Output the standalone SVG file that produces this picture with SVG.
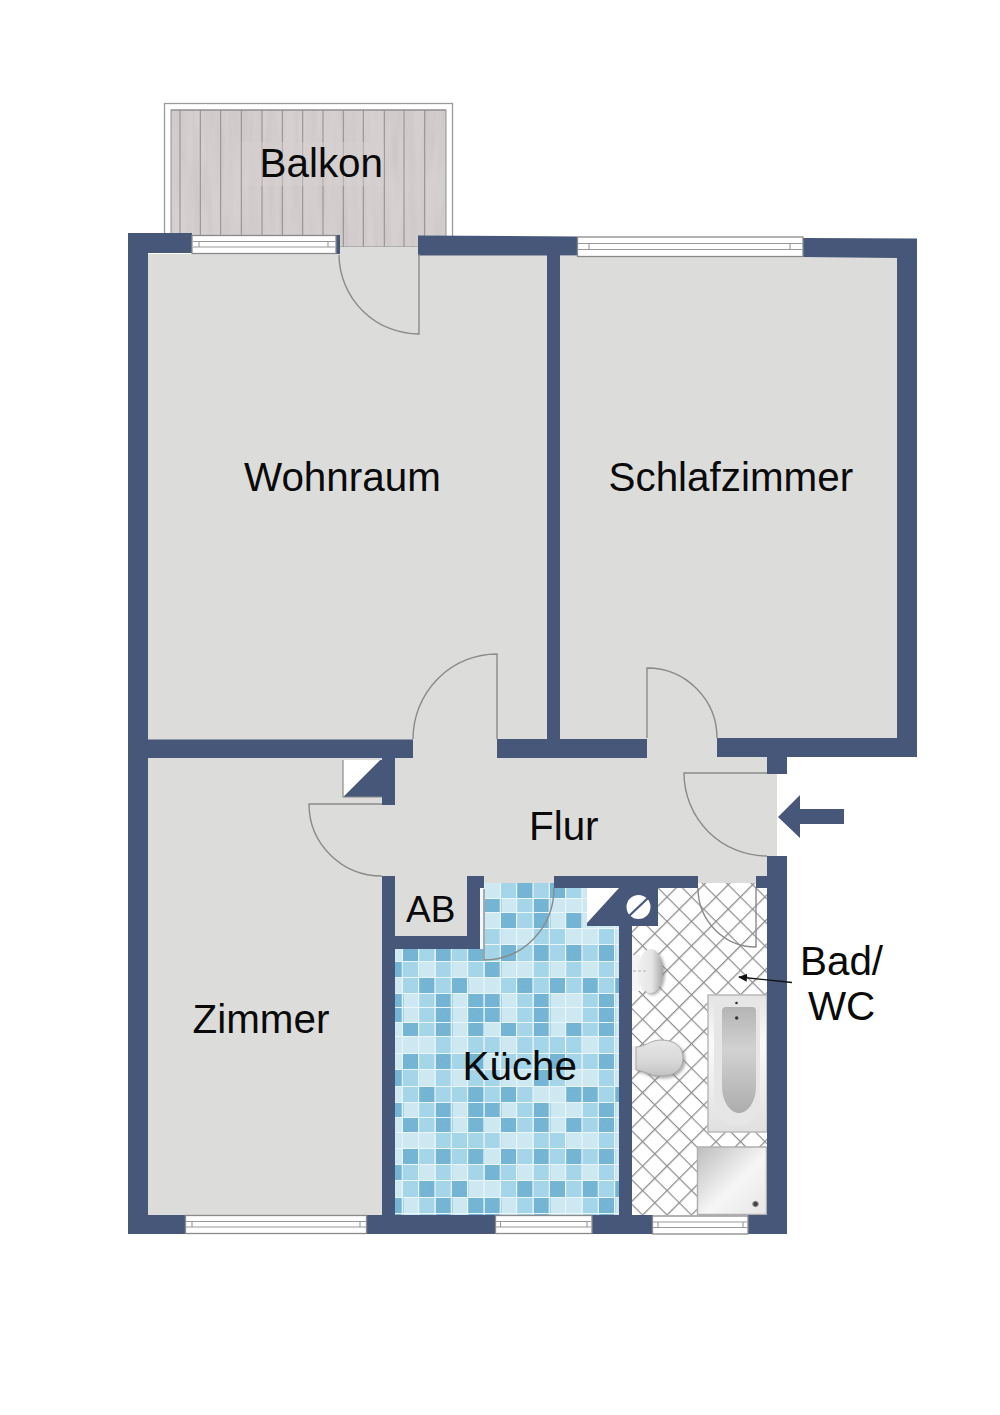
<svg xmlns="http://www.w3.org/2000/svg" width="1000" height="1415" viewBox="0 0 1000 1415">
<style>
.wall{fill:#47577a}
.floor{fill:#dcdcda}
.door{fill:none;stroke:#8a8a8a;stroke-width:1.4}
.win{fill:#fff;stroke:#8a8a8a;stroke-width:1.3}
.winl{fill:none;stroke:#999;stroke-width:1.1}
.lbl{font-family:"Liberation Sans",Arial,sans-serif;font-size:40.4px;fill:#0a0a0a}
.m,.d{width:16.4px}
.m{fill:#a3d4e8}
.d{fill:#72b3d3}
.r14 rect{height:14px}.r15 rect{height:15px}.r16 rect{height:16px}.r17 rect{height:17px}
</style>
<defs>
<filter id="grain" x="0" y="0" width="1" height="1"><feTurbulence type="fractalNoise" baseFrequency="0.12 0.012" numOctaves="3" seed="4"/><feColorMatrix type="matrix" values="0 0 0 0 0.55  0 0 0 0 0.5  0 0 0 0 0.5  0.9 0 0 0 -0.3"/><feComposite in2="SourceGraphic" operator="in" result="g"/><feMerge><feMergeNode in="SourceGraphic"/><feMergeNode in="g"/></feMerge></filter>
<filter id="speck" x="0" y="0" width="1" height="1"><feTurbulence type="fractalNoise" baseFrequency="0.7" numOctaves="2" seed="7"/><feColorMatrix type="matrix" values="0 0 0 0 1  0 0 0 0 1  0 0 0 0 1  0.8 0 0 0 -0.3"/><feComposite in2="SourceGraphic" operator="in"/></filter>
<filter id="soft" x="-20%" y="-20%" width="140%" height="140%"><feDropShadow dx="2" dy="2" stdDeviation="1.5" flood-color="#777" flood-opacity=".6"/></filter>
<pattern id="hatch" width="17.3" height="17.3" patternUnits="userSpaceOnUse" patternTransform="translate(667 1140.700) rotate(45)"><rect width="17.3" height="17.3" fill="#fff"/><path d="M0 0H17.3M0 0V17.3" fill="none" stroke="#8f8f8f" stroke-width="2.6"/></pattern>
<linearGradient id="sink" x1="0" x2="1" y1="0" y2="0"><stop offset="0" stop-color="#f0f0f0"/><stop offset=".55" stop-color="#e6e6e6"/><stop offset="1" stop-color="#a8a8a8"/></linearGradient>
<linearGradient id="loo" x1="0" x2="0" y1="0" y2="1"><stop offset="0" stop-color="#e6e6e6"/><stop offset=".6" stop-color="#d8d8d8"/><stop offset="1" stop-color="#c2c2c2"/></linearGradient>
<linearGradient id="tub" x1="0" x2="0" y1="0" y2="1"><stop offset="0" stop-color="#e4e4e4"/><stop offset=".35" stop-color="#fafafa"/><stop offset="1" stop-color="#e0e0e0"/></linearGradient>
<linearGradient id="basin" x1="0" x2="0" y1="0" y2="1"><stop offset="0" stop-color="#b4b4b4"/><stop offset=".4" stop-color="#d2d2d2"/><stop offset="1" stop-color="#adadad"/></linearGradient>
<linearGradient id="tray" x1="0" x2="1" y1="0" y2="1"><stop offset="0" stop-color="#bdbdbd"/><stop offset=".55" stop-color="#f6f6f6"/><stop offset="1" stop-color="#e6e6e6"/></linearGradient>
<marker id="tip" markerWidth="9" markerHeight="8" refX="8" refY="4" orient="auto" markerUnits="userSpaceOnUse"><path d="M0 0L9 4L0 8z" fill="#111"/></marker>
</defs>
<rect width="1000" height="1415" fill="#fff"/>

<g id="balkon">
<rect x="164.500" y="103.500" width="288" height="140" fill="#fff" stroke="#9a9a9a" stroke-width="1.3"/>
<rect x="171" y="110" width="275" height="137" fill="#d6d0d0" filter="url(#grain)"/>
<path d="M171 110H446M180 110V247M200.300 110V247M220.700 110V247M241.300 110V247M262 110V247M282.300 110V247M302.700 110V247M323 110V247M343.300 110V247M363.300 110V247M384.300 110V247M404 110V247M424.700 110V247" fill="none" stroke="#918c8c" stroke-width="1"/>
<rect x="171" y="110" width="275" height="137" fill="none" stroke="#8f8f8f" stroke-width="1"/>
<rect x="241.800" y="142" width="142" height="44" fill="#d6d0d0" opacity=".45"/>
</g>

<g id="kueche">
<rect x="395" y="883" width="224" height="332" fill="#cde8f1"/>
<g class="r16" transform="translate(0 883)"><rect class="m" x="501"/><rect class="d" x="517"/><rect class="m" x="534"/><rect class="d" x="550"/><rect class="m" x="566"/></g>
<g class="r14" transform="translate(0 899)"><rect class="d" x="485"/><rect class="m" x="517"/><rect class="d" x="534"/></g>
<g class="r16" transform="translate(0 913)"><rect class="d" x="501"/><rect class="m" x="517"/><rect class="d" x="534"/><rect class="d" x="566"/></g>
<g class="r16" transform="translate(0 929)"><rect class="m" x="485"/><rect class="m" x="534"/><rect class="m" x="550"/><rect class="m" x="599"/></g>
<g class="r17" transform="translate(0 945)"><rect class="d" x="403"/><rect class="m" x="419"/><rect class="d" x="436"/><rect class="m" x="452"/><rect class="d" x="468"/><rect class="m" x="485"/><rect class="d" x="501"/><rect class="m" x="517"/><rect class="d" x="534"/><rect class="m" x="550"/><rect class="d" x="566"/><rect class="m" x="583"/><rect class="d" x="599"/></g>
<g class="r16" transform="translate(0 962)"><rect class="d" x="387"/><rect class="m" x="403"/><rect class="m" x="436"/><rect class="m" x="468"/><rect class="d" x="485"/><rect class="m" x="534"/><rect class="m" x="566"/><rect class="m" x="599"/></g>
<g class="r16" transform="translate(0 978)"><rect class="m" x="403"/><rect class="d" x="419"/><rect class="m" x="436"/><rect class="d" x="452"/><rect class="m" x="501"/><rect class="d" x="517"/><rect class="m" x="534"/><rect class="d" x="550"/><rect class="m" x="566"/><rect class="d" x="583"/><rect class="m" x="599"/><rect class="d" x="615"/></g>
<g class="r14" transform="translate(0 994)"><rect class="d" x="387"/><rect class="m" x="419"/><rect class="d" x="436"/><rect class="d" x="468"/><rect class="d" x="485"/><rect class="m" x="517"/><rect class="d" x="534"/><rect class="m" x="583"/><rect class="d" x="599"/></g>
<g class="r15" transform="translate(0 1008)"><rect class="d" x="387"/><rect class="m" x="419"/><rect class="d" x="436"/><rect class="d" x="468"/><rect class="d" x="485"/><rect class="m" x="517"/><rect class="d" x="534"/><rect class="m" x="583"/><rect class="d" x="599"/></g>
<g class="r14" transform="translate(0 1023)"><rect class="d" x="403"/><rect class="m" x="419"/><rect class="d" x="436"/><rect class="d" x="468"/><rect class="d" x="501"/><rect class="m" x="517"/><rect class="d" x="534"/><rect class="d" x="566"/><rect class="m" x="583"/><rect class="d" x="599"/></g>
<g class="r17" transform="translate(0 1037)"><rect class="m" x="436"/><rect class="m" x="468"/><rect class="m" x="485"/><rect class="m" x="517"/><rect class="m" x="534"/><rect class="m" x="550"/><rect class="m" x="566"/><rect class="m" x="599"/></g>
<g class="r16" transform="translate(0 1054)"><rect class="d" x="403"/><rect class="m" x="419"/><rect class="d" x="436"/><rect class="m" x="452"/><rect class="d" x="468"/><rect class="m" x="501"/><rect class="m" x="517"/><rect class="m" x="534"/><rect class="d" x="550"/><rect class="m" x="566"/><rect class="m" x="583"/><rect class="d" x="599"/></g>
<g class="r17" transform="translate(0 1070)"><rect class="d" x="387"/><rect class="m" x="403"/><rect class="m" x="436"/><rect class="m" x="468"/><rect class="m" x="485"/><rect class="d" x="534"/><rect class="m" x="550"/><rect class="m" x="599"/></g>
<g class="r16" transform="translate(0 1087)"><rect class="m" x="403"/><rect class="d" x="419"/><rect class="m" x="436"/><rect class="m" x="452"/><rect class="d" x="468"/><rect class="m" x="485"/><rect class="d" x="501"/><rect class="m" x="517"/><rect class="d" x="566"/><rect class="d" x="583"/><rect class="m" x="599"/><rect class="d" x="615"/></g>
<g class="r15" transform="translate(0 1103)"><rect class="d" x="387"/><rect class="m" x="419"/><rect class="d" x="436"/><rect class="d" x="468"/><rect class="d" x="485"/><rect class="m" x="517"/><rect class="d" x="534"/><rect class="m" x="583"/><rect class="d" x="599"/></g>
<g class="r15" transform="translate(0 1118)"><rect class="d" x="403"/><rect class="m" x="419"/><rect class="d" x="436"/><rect class="d" x="468"/><rect class="d" x="501"/><rect class="m" x="517"/><rect class="d" x="534"/><rect class="d" x="566"/><rect class="m" x="583"/><rect class="d" x="599"/></g>
<g class="r16" transform="translate(0 1133)"><rect class="m" x="436"/><rect class="m" x="452"/><rect class="m" x="468"/><rect class="m" x="485"/><rect class="m" x="534"/><rect class="m" x="550"/><rect class="m" x="599"/></g>
<g class="r16" transform="translate(0 1149)"><rect class="d" x="403"/><rect class="m" x="419"/><rect class="d" x="436"/><rect class="m" x="452"/><rect class="d" x="468"/><rect class="d" x="501"/><rect class="m" x="517"/><rect class="d" x="534"/><rect class="m" x="550"/><rect class="d" x="566"/><rect class="m" x="583"/><rect class="d" x="599"/></g>
<g class="r16" transform="translate(0 1165)"><rect class="d" x="387"/><rect class="m" x="403"/><rect class="m" x="436"/><rect class="m" x="468"/><rect class="d" x="485"/><rect class="m" x="501"/><rect class="m" x="534"/><rect class="m" x="566"/><rect class="m" x="599"/></g>
<g class="r17" transform="translate(0 1181)"><rect class="m" x="403"/><rect class="d" x="419"/><rect class="m" x="436"/><rect class="d" x="452"/><rect class="m" x="501"/><rect class="d" x="517"/><rect class="m" x="534"/><rect class="d" x="550"/><rect class="m" x="566"/><rect class="d" x="583"/><rect class="m" x="599"/><rect class="d" x="615"/></g>
<g class="r17" transform="translate(0 1198)"><rect class="d" x="387"/><rect class="m" x="419"/><rect class="d" x="436"/><rect class="d" x="468"/><rect class="d" x="485"/><rect class="m" x="517"/><rect class="d" x="534"/><rect class="m" x="583"/><rect class="d" x="599"/></g>
<rect x="395" y="883" width="224" height="332" fill="#fff" filter="url(#speck)" opacity=".18"/>
<path d="M402.300 883V1215M418.600 883V1215M435 883V1215M451.300 883V1215M467.600 883V1215M484 883V1215M500.300 883V1215M516.600 883V1215M533 883V1215M549.300 883V1215M565.600 883V1215M582 883V1215M598.300 883V1215M614.600 883V1215M395 898.500H619M395 912.500H619M395 928.500H619M395 944.500H619M395 961.500H619M395 977.500H619M395 993.500H619M395 1007.500H619M395 1022.500H619M395 1036.500H619M395 1053.500H619M395 1069.500H619M395 1086.500H619M395 1102.500H619M395 1117.500H619M395 1132.500H619M395 1148.500H619M395 1164.500H619M395 1180.500H619M395 1197.500H619M395 1213.500H619" fill="none" stroke="#e9f6fa" stroke-width="1.2"/>
<rect x="480" y="888" width="4" height="61" fill="#f2f8fa"/>
</g>

<g id="floors" class="floor">
<rect x="148" y="254" width="399" height="486"/>
<rect x="339" y="247" width="80" height="10"/>
<rect x="560" y="256" width="337" height="484"/>
<rect x="148" y="758" width="235" height="458"/>
<rect x="382" y="740" width="385" height="136"/>
<rect x="395" y="876" width="372" height="7"/>
<rect x="767" y="774" width="10" height="82"/>
<rect x="395" y="876" width="72" height="60"/>
</g>

<g id="bad">
<rect x="632" y="883" width="135" height="332" fill="url(#hatch)"/>
<g id="waschbecken">
<rect x="632" y="955" width="8" height="36" fill="#f4f4f4"/>
<ellipse cx="650.500" cy="971" rx="12.500" ry="22" fill="url(#sink)" filter="url(#soft)"/>
<path d="M633 971H648" stroke="#cfcfcf" stroke-width="2" stroke-dasharray="3 2" fill="none"/>
</g>
<g id="wc">
<rect x="632" y="1046" width="6" height="24" fill="#eee"/>
<path d="M636 1047C645 1047 650 1040 661 1040C675 1040 683 1047 683 1058C683 1069 675 1076 661 1076C650 1076 645 1071 636 1070Z" fill="url(#loo)" stroke="#a8a8a8" filter="url(#soft)"/>
</g>
<g id="wanne">
<rect x="708" y="995" width="59" height="137" fill="url(#tub)" stroke="#b9b9b9" stroke-width="1.500"/>
<path d="M714 1001H760V1100C760 1115 750 1126 737 1126C724 1126 714 1115 714 1100Z" fill="#e6e6e6"/>
<path d="M722 1011Q722 1007 726 1007H752Q756 1007 756 1011V1086C756 1103 747 1113 739 1113C731 1113 722 1103 722 1086Z" fill="url(#basin)"/>
<circle cx="736.500" cy="1003" r="1.300" fill="#333"/>
<circle cx="736.700" cy="1018" r="1.700" fill="#333"/>
</g>
<g id="dusche">
<rect x="697.500" y="1147" width="69" height="67.500" fill="url(#tray)" stroke="#b0b0b0" stroke-width="1.500"/>
<circle cx="755.500" cy="1204" r="2.800" fill="#444" stroke="#999"/>
</g>
</g>

<g id="waende" class="wall">
<path d="M128 233H192V253H148V1215H186V1234H128Z"/>
<rect x="336" y="235" width="4" height="19"/>
<path d="M418 235.500L577 236.500V255.500H418Z"/>
<path d="M803 238L917 238.500V757H717V738H897V258L803 257Z"/>
<rect x="547" y="255" width="13" height="485"/>
<rect x="148" y="739.500" width="265" height="18.500"/>
<rect x="497" y="739" width="150" height="19"/>
<rect x="767" y="757" width="20" height="17"/>
<rect x="382" y="758" width="13" height="47"/>
<path d="M380 760H382V797H343Z"/>
<path d="M382 876H395V936H467V876H484V888H480V949H395V1215H496V1234H367V1215H382Z"/>
<rect x="592" y="1215" width="61" height="19"/>
<rect x="748" y="1215" width="39" height="19"/>
<path d="M767 856H787V1234H767Z"/>
<path d="M554 876H698V888H658V926H632V1216H619V888H554Z"/>
<path d="M587 888H619V926H587Z"/>
<rect x="756" y="876" width="11" height="12"/>
</g>

<g id="schacht">
<path d="M587 888H619L587 923Z" fill="#fff"/>
<circle cx="638.500" cy="907" r="12" fill="#fff"/>
<path d="M629 916L648 898" stroke="#47577a" stroke-width="2.200" fill="none"/>
<path d="M343 760H380L343 797Z" fill="#fff"/>
<path d="M343 760V797H382" fill="none" stroke="#8a8a8a" stroke-width="1.200"/>
</g>

<g id="fenster">
<g><rect class="win" x="192" y="235.500" width="144" height="18"/><path class="winl" d="M193 241.500H335M193 247H335M199 241.500V247M328 241.500V247"/></g>
<g><rect class="win" x="577.500" y="237" width="225.500" height="19.500"/><path class="winl" d="M578 243.500H802M578 249.500H802M589 243.500V249.500M790 243.500V249.500"/></g>
<g><rect class="win" x="185.500" y="1215.500" width="181" height="18"/><path class="winl" d="M186 1221.500H366M186 1227H366M192 1221.500V1227M360 1221.500V1227"/></g>
<g><rect class="win" x="495.500" y="1215.500" width="96.500" height="18"/><path class="winl" d="M496 1221.500H591M496 1227H591M500.500 1221.500V1227M587 1221.500V1227"/></g>
<g><rect class="win" x="652.500" y="1216" width="95.500" height="18"/><path class="winl" d="M653 1222H747M653 1227.500H747M658 1222V1227.500M743 1222V1227.500"/></g>
</g>

<g id="tueren">
<path class="door" d="M419 254V334A80 80 0 0 1 339 255"/>
<path class="door" d="M497 739V654A84 85 0 0 0 413 739"/>
<path class="door" d="M647 738V668A70 70 0 0 1 717 738"/>
<path class="door" d="M767 773H684A83 83 0 0 0 767 856"/>
<path class="door" d="M382 804H309A73 72 0 0 0 382 876"/>
<path class="door" d="M484 889V960A70 72 0 0 0 554 888"/>
<path class="door" d="M756 888V947A58 59 0 0 1 698 888"/>
</g>

<g id="verbinder">
<path d="M792 982.500L739 977" fill="none" stroke="#111" stroke-width="1.400" marker-end="url(#tip)"/>
<path d="M778 817L800 795V809H844V824H800V838Z" fill="#47577a"/>
</g>

<g id="beschriftung">
<text class="lbl" x="259.500" y="177">Balkon</text>
<text class="lbl" x="244" y="491">Wohnraum</text>
<text class="lbl" x="608.500" y="491">Schlafzimmer</text>
<text class="lbl" x="529" y="840">Flur</text>
<text class="lbl" x="406" y="921.500" style="font-size:37px">AB</text>
<text class="lbl" x="192.500" y="1033">Zimmer</text>
<text class="lbl" x="462.500" y="1080">Küche</text>
<text class="lbl" x="800" y="975">Bad/</text>
<text class="lbl" x="808" y="1020">WC</text>
</g>
</svg>
